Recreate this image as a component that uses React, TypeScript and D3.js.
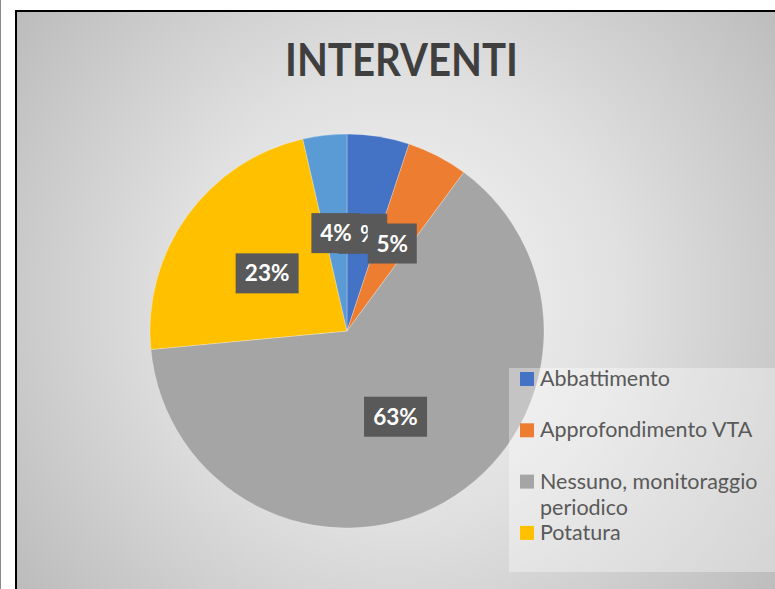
import React from "react";
import * as d3 from "d3";

const categories = [
  "Abbattimento",
  "Approfondimento VTA",
  "Nessuno, monitoraggio periodico",
  "Potatura",
  "Altro",
];
const values = [5.1, 5.0, 63.4, 22.9, 3.6];
const colors = ["#4472C4", "#ED7D31", "#A5A5A5", "#FFC000", "#5B9BD5"];
const legendLines = [
  ["Abbattimento"],
  ["Approfondimento VTA"],
  ["Nessuno, monitoraggio", "periodico"],
  ["Potatura"],
  ["Altro"],
];
const title = "INTERVENTI";

const W = 775;
const H = 589;
const FONT = "Lato, 'Open Sans', sans-serif";

export default function App() {
  const cx = 347;
  const cy = 331;
  const R = 197;
  const total = d3.sum(values);
  const pie = d3
    .pie<number>()
    .sort(null)
    .value((d) => d)
    .startAngle(0)
    .endAngle(2 * Math.PI);
  const arcs = pie(values);
  const arc = d3.arc<d3.PieArcDatum<number>>().innerRadius(0).outerRadius(R);
  const labelArc = d3
    .arc<d3.PieArcDatum<number>>()
    .innerRadius(R * 0.5)
    .outerRadius(R * 0.5);
  const labels = values.map((v) => `${Math.round((v / total) * 100)}%`);

  const legendX = 509;
  const legendY = 368;
  const legendW = 290;
  const legendH = 204;
  const rowStep = 51.3;
  const firstBaseline = 386;

  const legendItems = categories
    .map((c, i) => ({ c, i, base: firstBaseline + i * rowStep }))
    .filter((d) => d.base + 6 < legendY + legendH);

  return (
    <div style={{ position: "fixed", left: 0, top: 0, width: W, height: H }}>
      <svg width={W} height={H} style={{ display: "block" }}>
        <defs>
          <radialGradient
            id="bg"
            gradientUnits="userSpaceOnUse"
            cx={400}
            cy={300}
            r={500}
          >
            <stop offset="0" stopColor="#f5f5f5" />
            <stop offset="0.45" stopColor="#e0e0e0" />
            <stop offset="1" stopColor="#b9b9b9" />
          </radialGradient>
        </defs>
        <rect x={0} y={0} width={W} height={H} fill="#fff" />
        <line x1={0.5} y1={0} x2={0.5} y2={H} stroke="#888" strokeWidth={1} />
        <rect
          x={16}
          y={11}
          width={W + 20}
          height={H + 20}
          fill="url(#bg)"
          stroke="#000"
          strokeWidth={2}
        />
        <text
          x={401.5}
          y={76}
          textAnchor="middle"
          fontFamily={FONT}
          fontWeight="bold"
          fontSize={45}
          fill="#3f3f3f"
          textLength={233}
          lengthAdjust="spacingAndGlyphs"
        >
          {title}
        </text>
        <g transform={`translate(${cx},${cy})`}>
          {arcs.map((a, i) => (
            <path
              key={i}
              d={arc(a) || ""}
              fill={colors[i]}
              stroke="#ffffff"
              strokeOpacity={0.35}
              strokeWidth={0.75}
            />
          ))}
          {arcs.map((a, i) => {
            const [lx, ly] = labelArc.centroid(a);
            const bw = 14 * labels[i].length + 21;
            const bh = 40;
            return (
              <g key={i} transform={`translate(${lx},${ly})`}>
                <rect x={-bw / 2} y={-bh / 2} width={bw} height={bh} fill="#595959" />
                <text
                  x={0}
                  y={8}
                  textAnchor="middle"
                  fontFamily={FONT}
                  fontWeight="bold"
                  fontSize={22.5}
                  fill="#ffffff"
                >
                  {labels[i]}
                </text>
              </g>
            );
          })}
        </g>
        <rect
          x={legendX}
          y={legendY}
          width={legendW}
          height={legendH}
          fill="#ffffff"
          fillOpacity={0.35}
        />
        <g>
          {legendItems.map(({ c, i, base }) => (
            <g key={c}>
              <rect x={520} y={base - 14} width={14} height={14} fill={colors[i]} />
              {legendLines[i].map((ln, j) => (
                <text
                  key={j}
                  x={540}
                  y={base + j * 26}
                  fontFamily={FONT}
                  fontSize={21.5}
                  fill="#595959"
                >
                  {ln}
                </text>
              ))}
            </g>
          ))}
        </g>
      </svg>
    </div>
  );
}
